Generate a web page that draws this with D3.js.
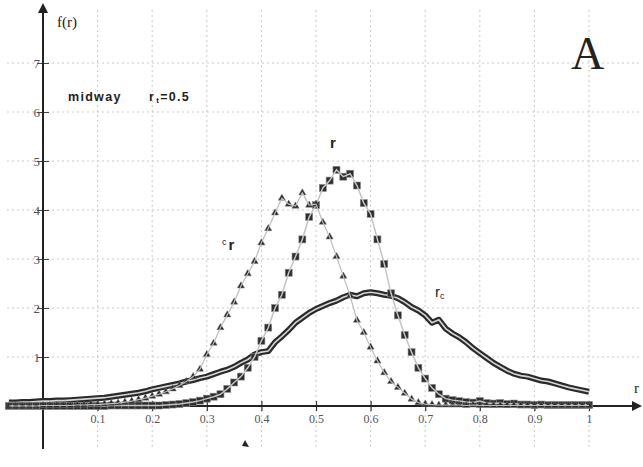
<!DOCTYPE html>
<html>
<head>
<meta charset="utf-8">
<script src="https://d3js.org/d3.v7.min.js"></script>
<style>
  body { margin: 0; background: #fff; }
  .tick text { font-family: "Liberation Serif", "DejaVu Serif", serif; fill: #555; }
  .lbl { font-family: "Liberation Sans", Arial, sans-serif; font-weight: bold; fill: #222; }
</style>
</head>
<body>
<svg id="chart" width="643" height="467"></svg>
<script>
// sampling grid of r (first sample and spacing)
var rStart = -0.0625, rStep = 0.0125;

// c_r  (triangles)
var triVals = [0,0,0,0,0,0.01,0.01,0.01,0.01,0.01,0.02,0.02,0.03,0.03,
  0.04,0.05,0.06,0.08,0.1,0.13,0.16,0.2,0.24,0.29,0.35,0.42,0.5,0.6,0.75,1.05,
  1.28,1.6,1.86,2.12,2.45,2.7,2.95,3.33,3.62,3.94,4.24,4.12,4.08,4.35,4.1,4.12,
  3.75,3.45,3.05,2.65,2.25,1.75,1.5,1.2,0.92,0.68,0.5,0.38,0.26,0.14,0.07,0.04,
  0.03,0.02,0.02,0.02,0.02,0.01,0.02,0.01,0.01,0.01,0.01,0.01,0.01,0.01,0.01,
  0.01,0.01,0.01,0.01,0.01,0.01,0.01,0.01,0.01];

// r  (squares)
var sqVals = [0,0,0,0,0,0,0,0,0,0,0,0,0,0,0,0.01,0.01,0.01,0.01,0.01,0.01,
  0.01,0.01,0.02,0.03,0.04,0.06,0.08,0.11,0.15,0.19,0.24,0.35,0.48,0.6,0.78,1.0,
  1.33,1.6,2.0,2.27,2.72,3.05,3.4,3.86,4.1,4.45,4.6,4.82,4.68,4.74,4.5,4.14,3.92,
  3.4,2.9,2.3,1.85,1.45,1.1,0.78,0.56,0.37,0.24,0.15,0.12,0.1,0.08,0.07,0.1,0.06,
  0.05,0.06,0.04,0.05,0.03,0.03,0.02,0.03,0.02,0.02,0.02,0.02,0.02,0.02,0.02];

// r_c  (thick line)
var rcVals = [0.07,0.07,0.08,0.08,0.09,0.1,0.1,0.11,0.11,0.12,0.13,0.14,0.15,
  0.16,0.17,0.19,0.21,0.23,0.25,0.27,0.3,0.34,0.37,0.4,0.43,0.46,0.5,0.53,0.57,
  0.6,0.65,0.7,0.74,0.8,0.88,0.95,1.05,1.1,1.12,1.3,1.42,1.55,1.7,1.8,1.9,1.98,
  2.04,2.1,2.15,2.22,2.27,2.24,2.3,2.32,2.3,2.27,2.25,2.2,2.12,2.02,1.95,1.85,
  1.7,1.76,1.58,1.48,1.4,1.3,1.18,1.08,0.98,0.88,0.8,0.72,0.66,0.62,0.6,0.56,
  0.52,0.5,0.46,0.42,0.38,0.35,0.32,0.29];

var xTicks = [0.1,0.2,0.3,0.4,0.5,0.6,0.7,0.8,0.9,1];
var xTickLabels = ["0.1","0.2","0.3","0.4","0.5","0.6","0.7","0.8","0.9","1"];
var yTicks = [1,2,3,4,5,6,7];

function pts(vals) {
  return vals.map(function(v, i) { return [rStart + i * rStep, v]; });
}

var svg = d3.select("#chart");
var x = d3.scaleLinear().domain([0, 1]).range([43, 589]);
var y = d3.scaleLinear().domain([0, 1]).range([406, 357]);

// arrow head
svg.append("defs").append("marker")
  .attr("id", "arr").attr("viewBox", "0 0 10 10").attr("refX", 8).attr("refY", 5)
  .attr("markerWidth", 5).attr("markerHeight", 5).attr("orient", "auto")
  .append("path").attr("d", "M0,0 L10,5 L0,10 z").attr("fill", "#222");

// grid
svg.append("g").selectAll("line").data(xTicks).enter().append("line")
  .attr("x1", function(d) { return x(d); }).attr("x2", function(d) { return x(d); })
  .attr("y1", 10).attr("y2", 449)
  .attr("stroke", "#c8c8c8").attr("stroke-dasharray", "2,3");
svg.append("g").selectAll("line").data(yTicks).enter().append("line")
  .attr("x1", 7).attr("x2", 640)
  .attr("y1", function(d) { return y(d); }).attr("y2", function(d) { return y(d); })
  .attr("stroke", "#c8c8c8").attr("stroke-dasharray", "2,3");

// axes
var xAxis = d3.axisBottom(x).tickValues(xTicks).tickSize(5)
  .tickFormat(function(d, i) { return xTickLabels[i]; });
var gx = svg.append("g").attr("transform", "translate(0," + (y(0) - 5) + ")").call(xAxis);
gx.select(".domain").remove();
gx.selectAll(".tick line").attr("y2", 10).attr("stroke", "#333").attr("stroke-width", 1.2);
gx.selectAll(".tick text").attr("y", 13).attr("font-size", 12);

var yAxis = d3.axisLeft(y).tickValues(yTicks).tickSize(6).tickPadding(3)
  .tickFormat(d3.format("d"));
var gy = svg.append("g").attr("transform", "translate(" + (x(0) + 6) + ",0)").call(yAxis);
gy.select(".domain").remove();
gy.selectAll(".tick line").attr("x2", -12).attr("stroke", "#444");
gy.selectAll(".tick text").attr("x", -9).attr("font-size", 13);

svg.append("line").attr("x1", 7).attr("x2", 640).attr("y1", y(0)).attr("y2", y(0))
  .attr("stroke", "#222").attr("stroke-width", 2).attr("marker-end", "url(#arr)");
svg.append("line").attr("x1", x(0)).attr("x2", x(0)).attr("y1", 449).attr("y2", 5)
  .attr("stroke", "#222").attr("stroke-width", 2).attr("marker-end", "url(#arr)");

var line = d3.line().x(function(d) { return x(d[0]); }).y(function(d) { return y(d[1]); });

// r_c thick doubled line
svg.append("path").datum(pts(rcVals)).attr("d", line).attr("fill", "none")
  .attr("stroke", "#2a2a2a").attr("stroke-width", 6).attr("stroke-linejoin", "round");
svg.append("path").datum(pts(rcVals)).attr("d", line).attr("fill", "none")
  .attr("stroke", "#d4d4d4").attr("stroke-width", 1.6);

// squares
svg.append("g").selectAll("rect").data(pts(sqVals)).enter().append("rect")
  .attr("x", function(d) { return x(d[0]) - 3.5; })
  .attr("y", function(d) { return y(d[1]) - 3.5; })
  .attr("width", 7).attr("height", 7)
  .attr("fill", "#2e2e2e").attr("stroke", "#888").attr("stroke-width", 0.6);
svg.append("path").datum(pts(sqVals)).attr("d", line).attr("fill", "none")
  .attr("stroke", "#c4c4c4").attr("stroke-width", 1.5);

// triangles
var tri = d3.symbol().type(d3.symbolTriangle).size(22);
svg.append("g").selectAll("path").data(pts(triVals)).enter().append("path")
  .attr("d", tri)
  .attr("transform", function(d) { return "translate(" + x(d[0]) + "," + y(d[1]) + ")"; })
  .attr("fill", "#2a2a2a").attr("stroke", "#777").attr("stroke-width", 0.5);
svg.append("path").datum(pts(triVals)).attr("d", line).attr("fill", "none")
  .attr("stroke", "#bdbdbd").attr("stroke-width", 1.2);

// texts
svg.append("text").attr("x", 57).attr("y", 27)
  .attr("font-family", "Liberation Serif, serif").attr("font-size", 15).attr("fill", "#222")
  .text("f(r)");
svg.append("text").attr("x", 571).attr("y", 69)
  .attr("font-family", "Liberation Serif, serif").attr("font-size", 46).attr("fill", "#222")
  .text("A");
svg.append("text").attr("x", 634).attr("y", 393)
  .attr("font-family", "Liberation Serif, serif").attr("font-size", 15).attr("fill", "#222")
  .text("r");

var mid = svg.append("text").attr("class", "lbl").attr("x", 68).attr("y", 101)
  .attr("font-size", 12.5).attr("letter-spacing", 1.3);
mid.append("tspan").text("midway");
mid.append("tspan").attr("x", 149).text("r");
mid.append("tspan").attr("font-size", 8).attr("dy", 2).attr("dx", 1).text("t");
mid.append("tspan").attr("dy", -2).text("=0.5");

svg.append("text").attr("class", "lbl").attr("x", 330).attr("y", 148)
  .attr("font-size", 15).text("r");

var cr = svg.append("text").attr("class", "lbl").attr("x", 222).attr("y", 250).attr("font-size", 15);
cr.append("tspan").attr("font-size", 9).attr("font-weight", "normal").attr("dy", -5).text("c");
cr.append("tspan").attr("dy", 5).attr("dx", 2).text("r");

var rc = svg.append("text").attr("class", "lbl").attr("x", 435).attr("y", 297).attr("font-size", 15);
rc.append("tspan").attr("font-weight", "normal").text("r");
rc.append("tspan").attr("font-size", 9).attr("font-weight", "normal").attr("dy", 2).text("c");

// stray mark below axis
svg.append("path").attr("d", "M0,-4 L4,3 L-3,2 z")
  .attr("transform", "translate(245,444)").attr("fill", "#222");
</script>
</body>
</html>
